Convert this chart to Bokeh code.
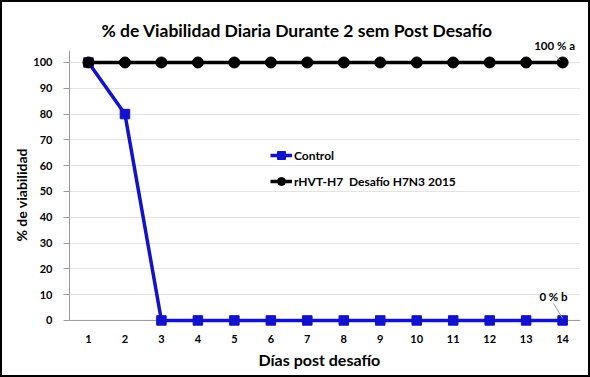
from bokeh.plotting import figure
from bokeh.models import Range1d, FixedTicker, Legend, LegendItem, Label, ColumnDataSource, Title
from bokeh.embed import file_html
from bokeh.resources import INLINE

dias = list(range(1, 15))
control = [100, 80, 0, 0, 0, 0, 0, 0, 0, 0, 0, 0, 0, 0]
rhvt = [100] * 14
y_ticks = list(range(0, 101, 10))
FONT = "Lato"

p = figure(width=590, height=377, output_backend="svg", toolbar_location=None,
           x_range=Range1d(0.48, 14.49), y_range=Range1d(-3.9, 118.6),
           min_border_left=67, min_border_right=12, min_border_top=12, min_border_bottom=49)
p.styles = {"border": "2px solid black", "box-sizing": "border-box"}
p.outline_line_color = None
p.background_fill_color = "white"

p.xaxis.ticker = FixedTicker(ticks=dias)
p.yaxis.ticker = FixedTicker(ticks=y_ticks)
p.yaxis.bounds = (0, 104.6)
p.xgrid.grid_line_color = None
p.ygrid.grid_line_color = "#e4e4e4"
for ax in (p.xaxis[0], p.yaxis[0]):
    ax.axis_line_color = "#9a9a9a"
    ax.major_tick_line_color = "#9a9a9a"
    ax.minor_tick_line_color = None
    ax.major_label_text_font = FONT
    ax.major_label_text_font_style = "bold"
    ax.major_label_text_font_size = "11px"
    ax.major_label_text_color = "black"
p.xaxis.axis_line_color = None
p.xaxis.major_tick_line_color = None
p.xaxis.major_tick_out = 0
p.xaxis.major_tick_in = 0
p.yaxis.major_tick_out = 6
p.yaxis.major_tick_in = 0
p.xaxis.major_label_standoff = 4
p.yaxis.major_label_standoff = 11

p.add_layout(Title(text="Días post desafío", align="left", offset=189, standoff=4,
                   text_color="black", text_font=FONT, text_font_style="bold",
                   text_font_size="16px"), "below")
p.add_layout(Title(text="% de viabilidad", align="left", offset=89, standoff=2,
                   text_color="black", text_font=FONT, text_font_style="bold",
                   text_font_size="14px"), "left")

# horizontal axis line at y = 0
p.segment(x0=[0.48], y0=[0], x1=[14.49], y1=[0], line_color="#9a9a9a", line_width=1)

src = ColumnDataSource(dict(x=dias, c=control, r=rhvt))
c_line = p.line("x", "c", source=src, line_color="#1212cc", line_width=3.5)
c_mark = p.scatter("x", "c", source=src, marker="square", size=9.5, fill_color="#1212cc", line_color="#1212cc")
r_line = p.line("x", "r", source=src, line_color="black", line_width=3.5)
r_mark = p.scatter("x", "r", source=src, marker="circle", size=11, fill_color="black", line_color="black")

legend = Legend(items=[LegendItem(label="Control", renderers=[c_line, c_mark]),
                       LegendItem(label="rHVT-H7  Desafío H7N3 2015", renderers=[r_line, r_mark])],
                location=(201, 139), background_fill_alpha=0, border_line_color=None,
                label_text_color="black",
                label_text_font=FONT, label_text_font_style="bold", label_text_font_size="12px",
                glyph_width=22, spacing=6, label_standoff=2)
p.add_layout(legend)

p.add_layout(Label(x=6.72, y=112.4, text="% de Viabilidad Diaria Durante 2 sem Post Desafío",
                   text_align="center", text_baseline="middle", text_font=FONT, text_color="black",
                   text_font_style="bold", text_font_size="17.5px"))
p.add_layout(Label(x=13.78, y=106.6, text="100 % a", text_align="center", text_baseline="middle",
                   text_font=FONT, text_color="black", text_font_style="bold", text_font_size="11.5px"))
p.add_layout(Label(x=13.75, y=9.3, text="0 % b", text_align="center", text_baseline="middle",
                   text_font=FONT, text_color="black", text_font_style="bold", text_font_size="11.5px"))
p.segment(x0=[13.80, 13.75], y0=[102.7, 6.6], x1=[13.93, 14.0], y1=[100.8, 0.8],
          line_color="#a0a0a0", line_width=1)

open("out.html", "w").write(file_html(p, INLINE))
